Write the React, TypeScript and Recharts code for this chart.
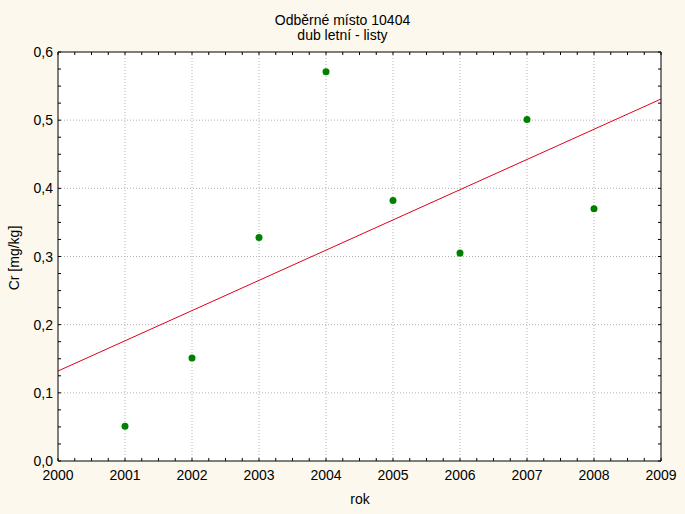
import {
  ComposedChart, Scatter, XAxis, YAxis, CartesianGrid, ReferenceLine,
} from 'recharts'

const years = [2001, 2002, 2003, 2004, 2005, 2006, 2007, 2008]
const crValues = [0.051, 0.151, 0.328, 0.571, 0.382, 0.305, 0.501, 0.370]
const yearTicks = [2000, 2001, 2002, 2003, 2004, 2005, 2006, 2007, 2008, 2009]
const valueTicks = [0, 0.1, 0.2, 0.3, 0.4, 0.5, 0.6]
// fitted line as drawn in the original (value at 2000 and 2009)
const trendEnds = [0.132, 0.531]

const points = years.map((x, i) => ({ x, y: crValues[i] }))

// minor ticks: 4 per year, 4 per 0.1
const minorX: number[] = []
for (let i = 0; i < yearTicks.length - 1; i++) {
  for (let k = 0; k < 4; k++) minorX.push(yearTicks[i] + k * 0.25)
}
minorX.push(yearTicks[yearTicks.length - 1])
const minorY: number[] = []
for (let i = 0; i < valueTicks.length - 1; i++) {
  for (let k = 0; k < 4; k++) minorY.push(+(valueTicks[i] + k * 0.025).toFixed(3))
}
minorY.push(valueTicks[valueTicks.length - 1])

const FONT = '"Liberation Sans", Arial, sans-serif'
const BG = '#fcf8ee'
const isMajorX = (v: number) => Number.isInteger(v)
const isMajorY = (v: number) => Math.abs(v * 10 - Math.round(v * 10)) < 1e-6

const BottomTick = (p: any) => {
  const v = p.payload.value
  return (
    <g>
      <line x1={p.x} x2={p.x} y1={p.y} y2={p.y - 3} stroke="#000" />
      {isMajorX(v) && (
        <text x={p.x} y={p.y + 19} textAnchor="middle" fontSize={14} fontFamily={FONT} fill="#000">{v}</text>
      )}
    </g>
  )
}

const TopTick = (p: any) => (
  <line x1={p.x} x2={p.x} y1={p.y} y2={p.y + 3} stroke="#000" />
)

const LeftTick = (p: any) => {
  const v = p.payload.value
  return (
    <g>
      <line x1={p.x} x2={p.x + 3} y1={p.y} y2={p.y} stroke="#000" />
      {isMajorY(v) && (
        <text x={p.x - 5} y={p.y + 5} textAnchor="end" fontSize={14} fontFamily={FONT} fill="#000">
          {v.toFixed(1).replace('.', ',')}
        </text>
      )}
    </g>
  )
}

const RightTick = (p: any) => (
  <line x1={p.x} x2={p.x - 3} y1={p.y} y2={p.y} stroke="#000" />
)

const Dot = (p: any) => <circle cx={p.cx} cy={p.cy} r={3.5} fill="#008000" />

export default function App() {
  const axisLine = { stroke: '#000' }
  return (
    <div style={{ position: 'absolute', left: 0, top: 0, width: 685, height: 514, background: BG, fontFamily: FONT }}>
      <div style={{ position: 'absolute', top: 13, left: 0, width: 685, textAlign: 'center', fontSize: 14, lineHeight: '15px' }}>
        Odběrné místo 10404<br />dub letní - listy
      </div>
      <ComposedChart width={685} height={514} data={points} margin={{ top: 22, right: 0, bottom: 0, left: 0 }}>
        <CartesianGrid fill="#fff" horizontal={false} vertical={false} />
        <XAxis xAxisId={0} type="number" dataKey="x" domain={[2000, 2009]} ticks={minorX} interval={0}
          tickSize={0} tickMargin={0} tickLine={false} axisLine={axisLine} tick={<BottomTick />} height={53} allowDataOverflow />
        <XAxis xAxisId="top" orientation="top" type="number" dataKey="x" domain={[2000, 2009]} ticks={minorX} interval={0}
          tickSize={0} tickMargin={0} tickLine={false} axisLine={axisLine} tick={<TopTick />} height={30} allowDataOverflow />
        <YAxis yAxisId={0} type="number" dataKey="y" domain={[0, 0.6]} ticks={minorY} interval={0}
          tickSize={0} tickMargin={0} tickLine={false} axisLine={axisLine} tick={<LeftTick />} width={58} allowDataOverflow />
        <YAxis yAxisId="right" orientation="right" type="number" dataKey="y" domain={[0, 0.6]} ticks={minorY} interval={0}
          tickSize={0} tickMargin={0} tickLine={false} axisLine={axisLine} tick={<RightTick />} width={24} allowDataOverflow />
        {yearTicks.slice(1, -1).map((yr) => (
          <ReferenceLine key={'v' + yr} x={yr} stroke="#b4b4b4" strokeDasharray="1 2" />
        ))}
        {valueTicks.slice(1, -1).map((v) => (
          <ReferenceLine key={'h' + v} y={v} stroke="#b4b4b4" strokeDasharray="1 2" />
        ))}
        <ReferenceLine
          segment={[{ x: yearTicks[0], y: trendEnds[0] }, { x: yearTicks[yearTicks.length - 1], y: trendEnds[1] }]}
          stroke="#e0001b" strokeWidth={1}
        />
        <Scatter dataKey="y" fill="#008000" shape={<Dot />} isAnimationActive={false} />
      </ComposedChart>
      <div style={{ position: 'absolute', left: 0, width: 720, top: 491, textAlign: 'center', fontSize: 14 }}>rok</div>
      <div style={{
        position: 'absolute', left: 14, top: 258, fontSize: 14, whiteSpace: 'nowrap',
        transform: 'translate(-50%, -50%) rotate(-90deg)',
      }}>Cr [mg/kg]</div>
    </div>
  )
}
